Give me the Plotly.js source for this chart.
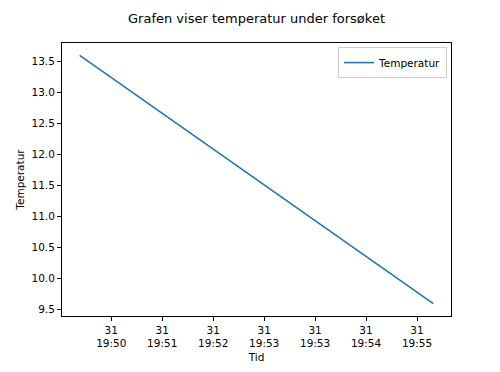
<!DOCTYPE html>
<html>
<head>
<meta charset="utf-8">
<script src="https://cdn.plot.ly/plotly-3.0.1.min.js"></script>
<style>html,body{margin:0;padding:0;background:#fff;}#chart{width:500px;height:372px;}</style>
</head>
<body>
<div id="chart"></div>
<script>
// Data
const times = ["2020-01-31 19:50:00", "2020-01-31 19:55:47"];
const temperatures = [13.6, 9.6];
const tickTimes = ["2020-01-31 19:50:31", "2020-01-31 19:51:21", "2020-01-31 19:52:11",
                   "2020-01-31 19:53:01", "2020-01-31 19:53:51", "2020-01-31 19:54:41",
                   "2020-01-31 19:55:31"];
const tickLabels = ["31<br>19:50", "31<br>19:51", "31<br>19:52", "31<br>19:53",
                    "31<br>19:53", "31<br>19:54", "31<br>19:55"];
const yTicks = [9.5, 10.0, 10.5, 11.0, 11.5, 12.0, 12.5, 13.0, 13.5];

function toMs(s){ return new Date(s.replace(' ', 'T') + 'Z').getTime(); }
function fmt(ms){ return new Date(ms).toISOString().replace('T',' ').replace('Z',''); }
const xs = times.map(toMs);
const xmin = Math.min(...xs), xmax = Math.max(...xs);
const xpad = (xmax - xmin) * 0.05;
const ymin = Math.min(...temperatures), ymax = Math.max(...temperatures);
const ypad = (ymax - ymin) * 0.05;

const font = {family: "DejaVu Sans, sans-serif", size: 10.5, color: "#000"};

Plotly.newPlot("chart", [{
  x: times, y: temperatures, type: "scatter", mode: "lines", name: "Temperatur",
  line: {color: "#1f77b4", width: 1.6}
}], {
  width: 500, height: 372,
  margin: {l: 62, r: 49, t: 43, b: 56, pad: 0},
  paper_bgcolor: "#fff", plot_bgcolor: "#fff",
  font: font,
  title: {text: "Grafen viser temperatur under forsøket", font: {family: font.family, size: 13, color: "#000"},
          x: 0.5, xref: "paper", xanchor: "center", y: 1 - 18/372, yanchor: "middle"},
  xaxis: {
    type: "date", range: [fmt(xmin - xpad), fmt(xmax + xpad)],
    tickmode: "array", tickvals: tickTimes, ticktext: tickLabels,
    showgrid: false, zeroline: false, showline: true, mirror: true,
    linecolor: "#000", linewidth: 1, ticks: "outside", ticklen: 4, tickcolor: "#000",
    tickfont: font,
    title: {text: "Tid", font: font, standoff: 5}
  },
  yaxis: {
    range: [ymin - ypad, ymax + ypad],
    tickmode: "array", tickvals: yTicks, ticktext: yTicks.map(v => v.toFixed(1)),
    showgrid: false, zeroline: false, showline: true, mirror: true,
    linecolor: "#000", linewidth: 1, ticks: "outside", ticklen: 4, tickcolor: "#000",
    tickfont: font,
    title: {text: "Temperatur", font: font, standoff: 4}
  },
  showlegend: true,
  legend: {x: 0.99, xanchor: "right", y: 0.985, yanchor: "top",
           bgcolor: "rgba(255,255,255,0.8)", bordercolor: "#ccc", borderwidth: 1,
           font: font}
}, {displayModeBar: false, staticPlot: true});
</script>
</body>
</html>
